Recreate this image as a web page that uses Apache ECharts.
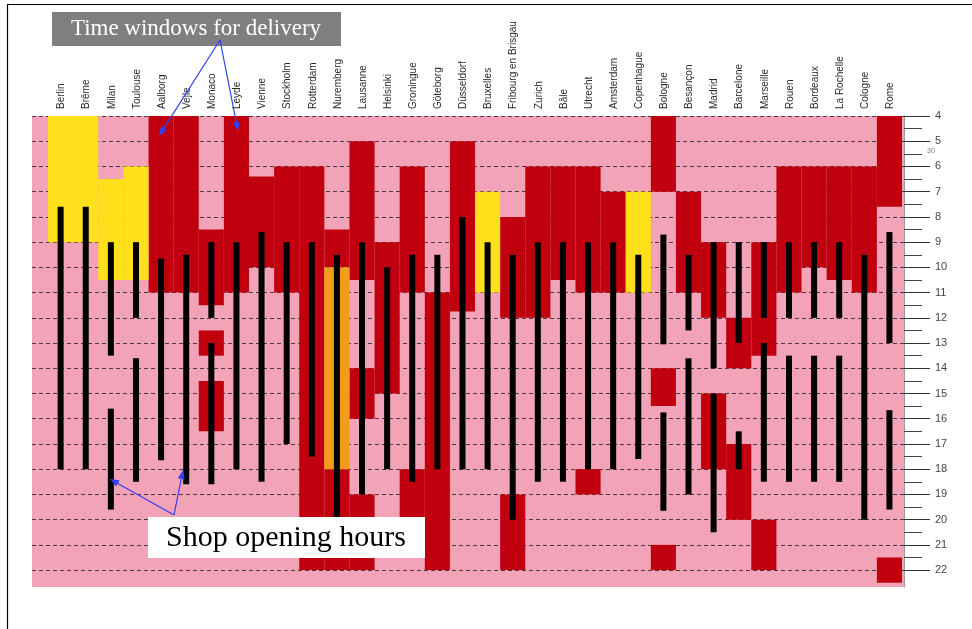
<!DOCTYPE html>
<html>
<head>
<meta charset="utf-8">
<script src="https://cdn.jsdelivr.net/npm/echarts@6/dist/echarts.min.js"></script>
<style>html,body{margin:0;padding:0;background:#fff}#c{width:972px;height:629px}</style>
</head>
<body>
<div id="c"></div>
<script>
// ---- data ----
const cities = ["Berlin","Brême","Milan","Toulouse","Aalborg","Vejle","Monaco","Leyde","Vienne","Stockholm",
  "Rotterdam","Nuremberg","Lausanne","Helsinki","Groningue","Göteborg","Düsseldorf","Bruxelles",
  "Fribourg en Brisgau","Zurich","Bâle","Utrecht","Amsterdam","Copenhague","Bologne","Besançon",
  "Madrid","Barcelone","Marseille","Rouen","Bordeaux","La Rochelle","Cologne","Rome"];
const hourTicks = [4,5,6,7,8,9,10,11,12,13,14,15,16,17,18,19,20,21,22];
const halfHourTicks = [4.5,5.5,6.5,7.5,8.5,9.5,10.5,11.5,12.5,13.5,14.5,15.5,16.5,17.5,18.5,19.5,20.5,21.5];

// time windows for delivery: [city index, from hour, to hour]
const deliveryYellow = [[0,4,9],[1,4,9],[2,6.5,10.5],[3,6,10.5],[17,7,11],[23,7,11]];
const deliveryOrange = [[11,10,18]];
const deliveryRed = [
  [4,4,11],[5,4,11],
  [6,8.5,11.5],[6,12.5,13.5],[6,14.5,16.5],
  [7,4,11],[8,6.4,10],[9,6,11],[10,6,22],
  [11,8.5,10],[11,18,22],
  [12,5,10.5],[12,14,16],[12,19,22],
  [13,9,15],[14,6,11],[14,18,20],[15,11,22],[16,5,11.75],
  [18,8,12],[18,19,22],[19,6,12],[20,6,10.5],[21,6,11],[21,18,19],[22,7,11],
  [24,4,7],[24,14,15.5],[24,21,22],[25,7,11],
  [26,9,12],[26,15,18],[27,12,14],[27,17,20],[28,9,13.5],[28,20,22],
  [29,6,11],[30,6,10],[31,6,10.5],[32,6,11],[33,4,7.6],[33,21.5,22.5]
];
// shop opening hours: [city index, open, close]
const shopHours = [
  [0,7.6,18],[1,7.6,18],[2,9,13.5],[2,15.6,19.6],[3,9,12],[3,13.6,18.5],
  [4,9.65,17.65],[5,9.5,18.6],[6,9,12],[6,13,18.6],[7,9,18],[8,8.6,18.5],
  [9,9,17],[10,9,17.5],[11,9.5,20],[12,9,19],[13,10,18],[14,9.5,18.5],
  [15,9.5,18],[16,8,18],[17,9,18],[18,9.5,20],[19,9,18.5],[20,9,18.5],
  [21,9,18],[22,9,18],[23,9.5,17.6],[24,8.7,13.05],[24,15.75,19.65],
  [25,9.5,12.5],[25,13.6,19],[26,9,14],[26,15,20.5],[27,9,13],[27,16.5,18],
  [28,9,12],[28,13,18.5],[29,9,12],[29,13.5,18.5],[30,9,12],[30,13.5,18.5],
  [31,9,12],[31,13.5,18.5],[32,9.5,20],[33,8.6,13],[33,15.66,19.6]
];

// ---- colours ----
const PINK = '#F2A3B7', RED = '#C0000E', YELLOW = '#FFE01B', ORANGE = '#F39C1A', BLUE = '#3340F0';

function blockSeries(data, color, z) {
  return {
    type: 'custom', data: data, z: z, clip: false,
    renderItem: function (params, api) {
      const i = api.value(0);
      const p1 = api.coord([i - 0.5, api.value(1)]);
      const p2 = api.coord([i + 0.5, api.value(2)]);
      return { type: 'rect', shape: { x: p1[0], y: p1[1], width: p2[0] - p1[0], height: p2[1] - p1[1] },
               style: { fill: color } };
    }
  };
}
function barSeries(data) {
  return {
    type: 'custom', data: data, z: 5, clip: false,
    renderItem: function (params, api) {
      const i = api.value(0);
      const p1 = api.coord([i, api.value(1)]);
      const p2 = api.coord([i, api.value(2)]);
      return { type: 'rect', shape: { x: p1[0] - 3, y: p1[1], width: 6, height: p2[1] - p1[1] },
               style: { fill: '#000' } };
    }
  };
}
const labelSeries = {
  type: 'custom', data: cities.map((c, i) => [i]), z: 6, clip: false, silent: true,
  renderItem: function (params, api) {
    const i = api.value(0);
    const p = api.coord([i, 4]);
    return { type: 'text', x: p[0] + 1, y: p[1] - 7, rotation: Math.PI / 2,
      style: { text: cities[params.dataIndex], fontSize: 10, fontFamily: 'Liberation Sans, Arial, sans-serif',
               fill: '#2a2a2a', align: 'left', verticalAlign: 'middle' } };
  }
};

function arrow(x1, y1, x2, y2) {
  const a = Math.atan2(y2 - y1, x2 - x1), L = 9, W = 3.5;
  const c = Math.cos(a), s = Math.sin(a);
  const b = [x2 - L * c, y2 - L * s];
  return [
    { type: 'line', z: 100, shape: { x1: x1, y1: y1, x2: b[0], y2: b[1] }, style: { stroke: BLUE, lineWidth: 1.2 } },
    { type: 'polygon', z: 100, shape: { points: [[x2, y2], [b[0] + W * s, b[1] - W * c], [b[0] - W * s, b[1] + W * c]] },
      style: { fill: BLUE } }
  ];
}

const chart = echarts.init(document.getElementById('c'), null, { renderer: 'canvas' });
chart.setOption({
  animation: false,
  backgroundColor: '#fff',
  grid: { left: 32, top: 116, width: 872, height: 471, show: true, backgroundColor: PINK, borderWidth: 0 },
  xAxis: { type: 'value', min: -1.14, max: 33.58, show: false, axisLine: { onZero: false } },
  yAxis: [{
    type: 'value', inverse: true, position: 'right', min: 4, max: 22.67, interval: 1,
    axisLine: { show: true, onZero: false, lineStyle: { color: '#9a9a9a', width: 1 } },
    axisTick: { show: true, length: 26, customValues: hourTicks, lineStyle: { color: '#333', width: 1 } },
    axisLabel: { margin: 31, fontSize: 11, color: '#444', fontFamily: 'Liberation Sans, Arial, sans-serif',
                 customValues: hourTicks, verticalAlign: 'middle', padding: [0, 0, 5, 0] },
    splitLine: { show: true, lineStyle: { color: '#4a3a40', type: [4, 3], width: 1 } }
  }, {
    type: 'value', inverse: true, position: 'right', min: 4, max: 22.67, interval: 1,
    axisLine: { show: false, onZero: false },
    axisTick: { show: true, length: 18, customValues: halfHourTicks, lineStyle: { color: '#444', width: 1 } },
    axisLabel: { show: false },
    splitLine: { show: false }
  }],
  series: [
    blockSeries(deliveryRed, RED, 2),
    blockSeries(deliveryYellow, YELLOW, 2),
    blockSeries(deliveryOrange, ORANGE, 2),
    barSeries(shopHours),
    labelSeries
  ],
  graphic: [
    { type: 'line', z: 100, shape: { x1: 7, y1: 4.5, x2: 972, y2: 4.5 }, style: { stroke: '#000', lineWidth: 1.2 } },
    { type: 'line', z: 100, shape: { x1: 7.5, y1: 4, x2: 7.5, y2: 629 }, style: { stroke: '#000', lineWidth: 1.2 } },
    { type: 'rect', z: 100, shape: { x: 52, y: 12, width: 289, height: 34 }, style: { fill: '#7f7f7f' } },
    { type: 'text', z: 101, x: 196, y: 29, style: { text: 'Time windows for delivery', fill: '#fff',
      fontSize: 23, fontFamily: 'Liberation Serif, Times New Roman, serif', align: 'center', verticalAlign: 'middle' } },
    { type: 'rect', z: 100, shape: { x: 148, y: 517, width: 277, height: 41 }, style: { fill: '#fff' } },
    { type: 'text', z: 101, x: 286, y: 538, style: { text: 'Shop opening hours', fill: '#000',
      fontSize: 30, fontFamily: 'Liberation Serif, Times New Roman, serif', align: 'center', verticalAlign: 'middle' } },
    { type: 'text', z: 101, x: 927, y: 151, style: { text: '30', fill: '#777', fontSize: 7,
      fontFamily: 'Liberation Sans, Arial, sans-serif', align: 'left', verticalAlign: 'middle' } }
  ].concat(arrow(220, 40, 159, 136), arrow(220, 40, 238, 131), arrow(174, 515, 110, 479), arrow(174, 515, 183, 470))
});
</script>
</body>
</html>
